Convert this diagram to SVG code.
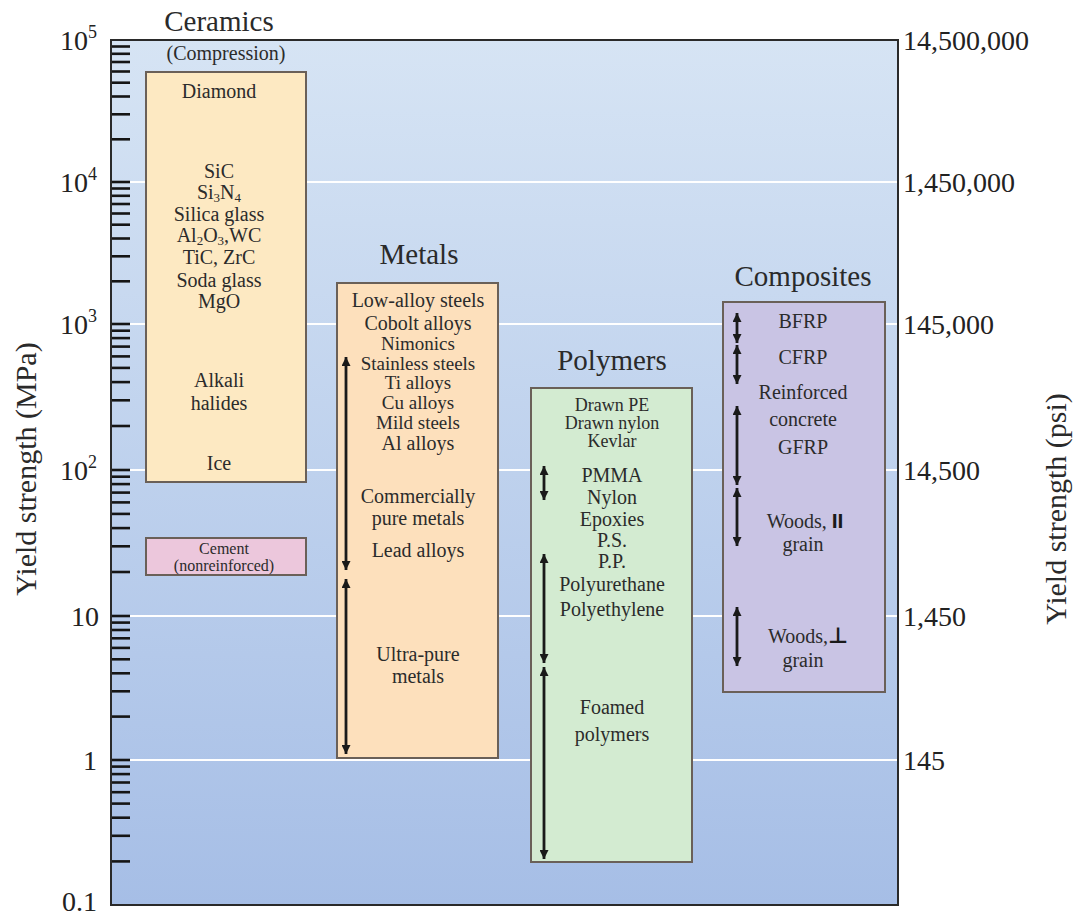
<svg xmlns="http://www.w3.org/2000/svg" width="1076" height="917" viewBox="0 0 1076 917">
<defs>
<linearGradient id="bg" x1="0" y1="0" x2="0" y2="1">
<stop offset="0" stop-color="#d6e4f4"/>
<stop offset="1" stop-color="#a6bee6"/>
</linearGradient>
<marker id="ah" viewBox="0 0 10 10" refX="10" refY="5" markerWidth="11" markerHeight="9" orient="auto-start-reverse" markerUnits="userSpaceOnUse">
<path d="M0,0 L10,5 L0,10 z" fill="#1a1a1a"/>
</marker>
<style>
text{font-family:"Liberation Serif","Times New Roman",serif;fill:#2b2b2b}
.ax{font-size:28px;fill:#222}
.axr{font-size:28px;fill:#222}
.title{font-size:29px;text-anchor:middle;fill:#2a2a2a}
.ytitle{font-size:30px;text-anchor:middle;fill:#2a2a2a}
.lbl{font-size:20px;text-anchor:middle}
.lbm{font-size:19px;text-anchor:middle}
.lbs{font-size:18px;text-anchor:middle}
.sm{font-size:16px;text-anchor:middle}
.tick{stroke:#151515;stroke-width:2.6}
.grid{stroke:#ffffff;stroke-width:2}
.box{stroke:#6a6058;stroke-width:2}
.arr{stroke:#1a1a1a;stroke-width:2.8;fill:none;marker-start:url(#ah);marker-end:url(#ah)}
</style>
</defs>
<rect width="1076" height="917" fill="#ffffff"/>
<g id="plot">
<rect x="111" y="40" width="787" height="865" fill="url(#bg)"/>
<g class="grid">
<line x1="111" y1="182" x2="898" y2="182"/>
<line x1="111" y1="324" x2="898" y2="324"/>
<line x1="111" y1="470" x2="898" y2="470"/>
<line x1="111" y1="616" x2="898" y2="616"/>
<line x1="111" y1="760" x2="898" y2="760"/>
</g>
<g class="tick">
<line x1="111" y1="46.5" x2="130" y2="46.5"/><line x1="111" y1="53.8" x2="130" y2="53.8"/><line x1="111" y1="62" x2="130" y2="62"/><line x1="111" y1="71.5" x2="130" y2="71.5"/><line x1="111" y1="82.7" x2="130" y2="82.7"/><line x1="111" y1="96.5" x2="130" y2="96.5"/><line x1="111" y1="114.3" x2="130" y2="114.3"/><line x1="111" y1="139.3" x2="130" y2="139.3"/>
<line x1="111" y1="182" x2="130" y2="182"/>
<line x1="111" y1="188.5" x2="130" y2="188.5"/><line x1="111" y1="195.8" x2="130" y2="195.8"/><line x1="111" y1="204" x2="130" y2="204"/><line x1="111" y1="213.5" x2="130" y2="213.5"/><line x1="111" y1="224.7" x2="130" y2="224.7"/><line x1="111" y1="238.5" x2="130" y2="238.5"/><line x1="111" y1="256.3" x2="130" y2="256.3"/><line x1="111" y1="281.3" x2="130" y2="281.3"/>
<line x1="111" y1="324" x2="130" y2="324"/>
<line x1="111" y1="330.7" x2="130" y2="330.7"/><line x1="111" y1="338.1" x2="130" y2="338.1"/><line x1="111" y1="346.6" x2="130" y2="346.6"/><line x1="111" y1="356.4" x2="130" y2="356.4"/><line x1="111" y1="367.9" x2="130" y2="367.9"/><line x1="111" y1="382.1" x2="130" y2="382.1"/><line x1="111" y1="400.3" x2="130" y2="400.3"/><line x1="111" y1="426" x2="130" y2="426"/>
<line x1="111" y1="470" x2="130" y2="470"/>
<line x1="111" y1="476.7" x2="130" y2="476.7"/><line x1="111" y1="484.1" x2="130" y2="484.1"/><line x1="111" y1="492.6" x2="130" y2="492.6"/><line x1="111" y1="502.4" x2="130" y2="502.4"/><line x1="111" y1="513.9" x2="130" y2="513.9"/><line x1="111" y1="528.1" x2="130" y2="528.1"/><line x1="111" y1="546.3" x2="130" y2="546.3"/><line x1="111" y1="572" x2="130" y2="572"/>
<line x1="111" y1="616" x2="130" y2="616"/>
<line x1="111" y1="622.6" x2="130" y2="622.6"/><line x1="111" y1="630" x2="130" y2="630"/><line x1="111" y1="638.3" x2="130" y2="638.3"/><line x1="111" y1="647.9" x2="130" y2="647.9"/><line x1="111" y1="659.3" x2="130" y2="659.3"/><line x1="111" y1="673.3" x2="130" y2="673.3"/><line x1="111" y1="691.3" x2="130" y2="691.3"/><line x1="111" y1="716.6" x2="130" y2="716.6"/>
<line x1="111" y1="760" x2="130" y2="760"/>
<line x1="111" y1="766.6" x2="130" y2="766.6"/><line x1="111" y1="774.1" x2="130" y2="774.1"/><line x1="111" y1="782.5" x2="130" y2="782.5"/><line x1="111" y1="792.2" x2="130" y2="792.2"/><line x1="111" y1="803.6" x2="130" y2="803.6"/><line x1="111" y1="817.7" x2="130" y2="817.7"/><line x1="111" y1="835.8" x2="130" y2="835.8"/><line x1="111" y1="861.4" x2="130" y2="861.4"/>
</g>
<rect x="111" y="40" width="787" height="865" fill="none" stroke="#2a2a2a" stroke-width="2"/>
</g>
<g id="left-axis">
<text class="ax" x="97" y="50" text-anchor="end">10<tspan font-size="18" dy="-12">5</tspan></text>
<text class="ax" x="97" y="192" text-anchor="end">10<tspan font-size="18" dy="-12">4</tspan></text>
<text class="ax" x="97" y="334" text-anchor="end">10<tspan font-size="18" dy="-12">3</tspan></text>
<text class="ax" x="97" y="480" text-anchor="end">10<tspan font-size="18" dy="-12">2</tspan></text>
<text class="ax" x="99" y="626" text-anchor="end">10</text>
<text class="ax" x="97" y="770" text-anchor="end">1</text>
<text class="ax" x="97" y="911" text-anchor="end">0.1</text>
<text class="ytitle" transform="translate(36,469) rotate(-90)">Yield strength (MPa)</text>
</g>
<g id="right-axis">
<text class="axr" x="903" y="50">14,500,000</text>
<text class="axr" x="903" y="192">1,450,000</text>
<text class="axr" x="903" y="334">145,000</text>
<text class="axr" x="903" y="480">14,500</text>
<text class="axr" x="903" y="626">1,450</text>
<text class="axr" x="903" y="770">145</text>
<text class="ytitle" transform="translate(1066,509) rotate(-90)">Yield strength (psi)</text>
</g>
<g id="ceramics">
<text class="title" x="219" y="31">Ceramics</text>
<text class="lbl" x="226" y="60">(Compression)</text>
<rect class="box" x="146" y="72" width="160" height="410" fill="#fde9c2"/>
<text class="lbl" x="219" y="98">Diamond</text>
<text class="lbl" x="219" y="178">SiC</text>
<text class="lbl" x="219" y="199">Si<tspan font-size="13" dy="3">3</tspan><tspan dy="-3">N</tspan><tspan font-size="13" dy="3">4</tspan></text>
<text class="lbl" x="219" y="221">Silica glass</text>
<text class="lbl" x="219" y="242">Al<tspan font-size="13" dy="3">2</tspan><tspan dy="-3">O</tspan><tspan font-size="13" dy="3">3</tspan><tspan dy="-3">,WC</tspan></text>
<text class="lbl" x="219" y="264">TiC, ZrC</text>
<text class="lbl" x="219" y="287">Soda glass</text>
<text class="lbl" x="219" y="308">MgO</text>
<text class="lbl" x="219" y="387">Alkali</text>
<text class="lbl" x="219" y="410">halides</text>
<text class="lbl" x="219" y="470">Ice</text>
</g>
<g id="cement">
<rect class="box" x="146" y="538" width="160" height="37" fill="#ecc7dc"/>
<text class="sm" x="224" y="554">Cement</text>
<text class="sm" x="224" y="571">(nonreinforced)</text>
</g>
<g id="metals">
<text class="title" x="419" y="264">Metals</text>
<rect class="box" x="337" y="283" width="161" height="475" fill="#fde0bc"/>
<text class="lbl" x="418" y="307">Low-alloy steels</text>
<text class="lbl" x="418" y="330">Cobolt alloys</text>
<text class="lbm" x="418" y="350">Nimonics</text>
<text class="lbm" x="418" y="370">Stainless steels</text>
<text class="lbm" x="418" y="389">Ti alloys</text>
<text class="lbm" x="418" y="409">Cu alloys</text>
<text class="lbm" x="418" y="429">Mild steels</text>
<text class="lbl" x="418" y="450">Al alloys</text>
<text class="lbl" x="418" y="503">Commercially</text>
<text class="lbl" x="418" y="525">pure metals</text>
<text class="lbl" x="418" y="557">Lead alloys</text>
<text class="lbl" x="418" y="661">Ultra-pure</text>
<text class="lbl" x="418" y="683">metals</text>
</g>
<g id="polymers">
<text class="title" x="612" y="370">Polymers</text>
<rect class="box" x="531" y="388" width="161" height="474" fill="#d3ebd1"/>
<text class="lbs" x="612" y="411">Drawn PE</text>
<text class="lbs" x="612" y="429">Drawn nylon</text>
<text class="lbs" x="612" y="447">Kevlar</text>
<text class="lbl" x="612" y="482">PMMA</text>
<text class="lbl" x="612" y="504">Nylon</text>
<text class="lbl" x="612" y="526">Epoxies</text>
<text class="lbl" x="612" y="547">P.S.</text>
<text class="lbl" x="612" y="568">P.P.</text>
<text class="lbl" x="612" y="591">Polyurethane</text>
<text class="lbl" x="612" y="616">Polyethylene</text>
<text class="lbl" x="612" y="714">Foamed</text>
<text class="lbl" x="612" y="741">polymers</text>
</g>
<g id="composites">
<text class="title" x="803" y="286">Composites</text>
<rect class="box" x="723" y="302" width="162" height="390" fill="#c9c4e4"/>
<text class="lbl" x="803" y="328">BFRP</text>
<text class="lbl" x="803" y="364">CFRP</text>
<text class="lbl" x="803" y="399">Reinforced</text>
<text class="lbl" x="803" y="426">concrete</text>
<text class="lbl" x="803" y="454">GFRP</text>
<text class="lbl" x="805" y="528">Woods, <tspan font-family="Liberation Sans, Arial, sans-serif" font-weight="bold" font-size="21" fill="#1a1a1a">II</tspan></text>
<text class="lbl" x="803" y="551">grain</text>
<text class="lbl" x="808" y="643">Woods,<tspan font-family="DejaVu Sans, sans-serif" font-weight="bold" font-size="22" fill="#1a1a1a">⊥</tspan></text>
<text class="lbl" x="803" y="667">grain</text>
</g>
<g id="connectors">
<line class="arr" x1="346" y1="357" x2="346" y2="570"/>
<line class="arr" x1="346" y1="579" x2="346" y2="754"/>
<line class="arr" x1="544" y1="466" x2="544" y2="500"/>
<line class="arr" x1="544" y1="554" x2="544" y2="663"/>
<line class="arr" x1="544" y1="667" x2="544" y2="859"/>
<line class="arr" x1="737" y1="313" x2="737" y2="343"/>
<line class="arr" x1="737" y1="345" x2="737" y2="384"/>
<line class="arr" x1="737" y1="406" x2="737" y2="485"/>
<line class="arr" x1="737" y1="488" x2="737" y2="546"/>
<line class="arr" x1="737" y1="607" x2="737" y2="666"/>
</g>
</svg>
